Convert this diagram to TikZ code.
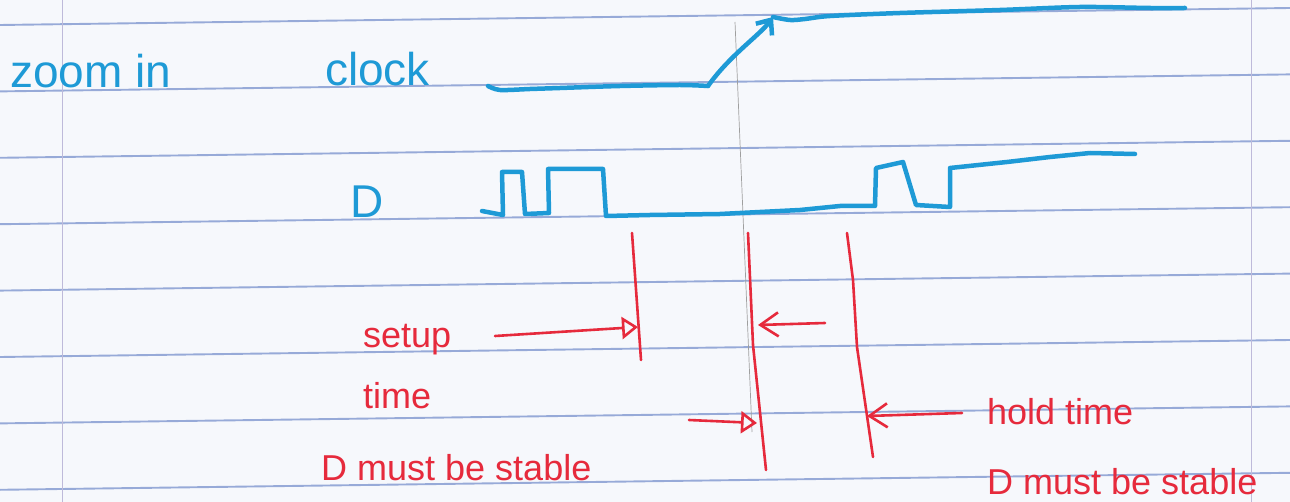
\documentclass[tikz,border=0pt]{standalone}
\usepackage{fontspec}
\setmainfont{Liberation Sans}
\usepackage{tikz}
\usetikzlibrary{arrows.meta}
\definecolor{penBlue}{HTML}{1E9AD6}
\definecolor{penRed}{HTML}{E62A3C}
\definecolor{ruleBlue}{HTML}{97AAD8}
\definecolor{marginLine}{HTML}{BEBADA}
\definecolor{paper}{HTML}{F6F8FC}

\begin{document}
\begin{tikzpicture}[x=1pt,y=-1pt,
  rule/.style={ruleBlue,line width=1.9pt},
  margin/.style={marginLine,line width=1pt},
  pencil/.style={gray!75,line width=0.7pt},
  trace/.style={penBlue,line width=4.5pt,line cap=round,line join=round},
  redline/.style={penRed,line width=2.6pt,line cap=round,line join=round},
  bluetxt/.style={penBlue,font=\fontsize{46}{46}\selectfont,inner sep=0pt,anchor=base west},
  redtxt/.style={penRed,font=\fontsize{36}{36}\selectfont,inner sep=0pt,anchor=base west},
  openhead/.style={-{Triangle[open,length=16pt,width=22pt]}},
  barbhead/.style={-{Straight Barb[length=18pt,width=24pt]}}]
\useasboundingbox (0,0) rectangle (1290,502);
% --- ruled paper ---
\fill[paper] (0,0) rectangle (1290,502);
\foreach \k in {0,...,7} {\draw[rule] (0,{25+66.4*\k}) -- (1290,{8+66.4*\k});}
\draw[margin] (62,0) -- (62,502);
\draw[margin] (1251,0) -- (1251,502);
\draw[pencil] (735,22) -- (752,432);
% --- labels ---
\node[bluetxt] (zoomLbl) at (10,88) {zoom in};
\node[bluetxt] (clockLbl) at (325,86) {clock};
\node[bluetxt] (dLbl) at (350,218) {D};
% --- clock ---
\coordinate (clkEdge) at (708,86);
\coordinate (clkTop) at (773,17);
\draw[trace] plot[smooth] coordinates {(488,86) (500,90) (530,89) (560,88) (620,86) (680,85) (clkEdge)};
\draw[trace,-{Straight Barb[length=12pt,width=20pt]}] (clkEdge) .. controls (730,55) and (760,35) .. (clkTop);
\draw[trace] plot[smooth] coordinates {(clkTop) (790,20) (805,19) (830,16) (900,13) (1000,10) (1080,7) (1150,8) (1185,8)};
% --- D ---
\draw[trace] (482,211) -- (503,215) -- (502,172) -- (522,172) -- (525,214) -- (549,213)
  -- (548,169) -- (603,169) -- (606,216) -- (650,215) -- (720,214) -- (800,210) -- (840,206)
  -- (875,206) -- (876,168) -- (903,162) -- (916,205) -- (950,207) -- (950,168)
  -- (1007,162) -- (1050,157) -- (1090,153) -- (1135,154);
% --- setup / hold window ---
\coordinate (setupTop) at (632,233);
\coordinate (setupBot) at (641,360);
\coordinate (edgeTop) at (748,233);
\coordinate (edgeMid) at (753,345);
\coordinate (edgeBot) at (766,470);
\coordinate (holdTop) at (847,233);
\coordinate (holdMid) at (857,347);
\coordinate (holdBot) at (873,457);
\draw[redline] (setupTop) -- (setupBot);
\draw[redline] (edgeTop) -- (edgeMid) -- (edgeBot);
\draw[redline] (holdTop) -- (853,280) -- (holdMid) -- (holdBot);
\coordinate (suTail) at (495,336);
\coordinate (suTip) at (638,327);
\coordinate (inTail) at (825,323);
\coordinate (inTip) at (758,325);
\coordinate (hdTail) at (689,420);
\coordinate (hdTip) at (757,423);
\coordinate (hoTail) at (962,413);
\coordinate (hoTip) at (867,416);
\draw[redline,openhead] (suTail) -- (suTip);
\draw[redline,barbhead] (inTail) -- (inTip);
\draw[redline,openhead] (hdTail) -- (hdTip);
\draw[redline,barbhead] (hoTail) -- (hoTip);
\node[redtxt] (setupLbl) at (363,348) {setup};
\node[redtxt] (timeLbl) at (363,408) {time};
\node[redtxt] (stableL) at (321,480) {D must be stable};
\node[redtxt] (holdLbl) at (987,424) {hold time};
\node[redtxt] (stableR) at (987,494) {D must be stable};
\end{tikzpicture}
\end{document}
